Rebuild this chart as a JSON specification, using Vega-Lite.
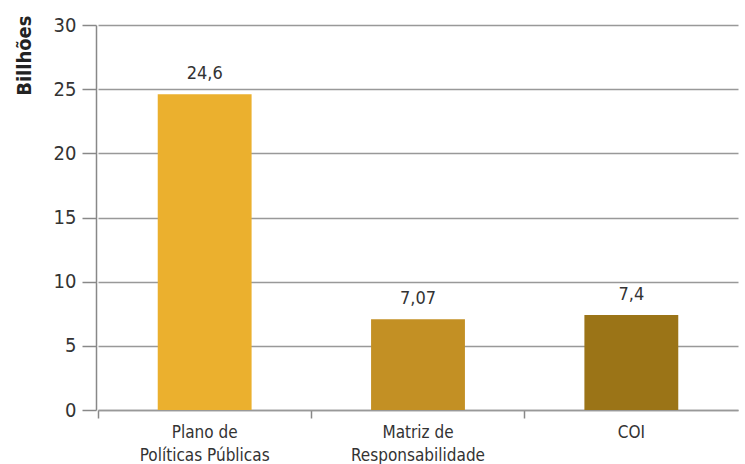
{
  "$schema": "https://vega.github.io/schema/vega-lite/v6.json",
  "autosize": {"type": "none"},
  "width": 649,
  "height": 385,
  "padding": {"left": 96, "top": 25, "right": 0, "bottom": 54},
  "background": "white",
  "config": {
    "locale": {"number": {"decimal": ",", "thousands": ".", "grouping": [3], "currency": ["R$", ""]}},
    "view": {"stroke": null},
    "font": "DejaVu Sans Condensed, Liberation Sans, sans-serif"
  },
  "data": {
    "values": [
      {"categoria": "Plano de|Políticas Públicas", "valor": 24.6},
      {"categoria": "Matriz de|Responsabilidade", "valor": 7.07},
      {"categoria": "COI", "valor": 7.4}
    ]
  },
  "encoding": {
    "x": {
      "field": "categoria",
      "type": "nominal",
      "sort": null,
      "scale": {"range": [2, 642], "paddingInner": 0.56, "paddingOuter": 0.28},
      "axis": {
        "title": null,
        "labelAngle": 0,
        "labelExpr": "split(datum.value, '|')",
        "labelFont": "DejaVu Sans Condensed, Liberation Sans, sans-serif",
        "labelFontSize": 17,
        "labelColor": "#333333",
        "labelLineHeight": 23,
        "labelPadding": 6,
        "domainColor": "#999999",
        "domainWidth": 1.5,
        "tickColor": "#888888",
        "tickWidth": 1.5,
        "tickSize": 8,
        "bandPosition": -0.636
      }
    },
    "y": {
      "field": "valor",
      "type": "quantitative",
      "scale": {"domain": [0, 30], "nice": false},
      "axis": {
        "title": "Billhões",
        "titleFont": "DejaVu Sans Condensed, Liberation Sans, sans-serif",
        "titleFontSize": 20,
        "titleFontWeight": "bold",
        "titleColor": "#222222",
        "titleAngle": -90,
        "titleAlign": "right",
        "titleBaseline": "alphabetic",
        "titleX": -66,
        "titleY": -10,
        "values": [0, 5, 10, 15, 20, 25, 30],
        "labelFont": "DejaVu Sans Condensed, Liberation Sans, sans-serif",
        "labelFontSize": 20,
        "labelColor": "#333333",
        "labelPadding": 6,
        "tickColor": "#888888",
        "tickWidth": 1.5,
        "tickSize": 14,
        "domainColor": "#888888",
        "domainWidth": 1.5,
        "grid": true,
        "gridColor": "#999999",
        "gridWidth": 1.5
      }
    }
  },
  "layer": [
    {
      "mark": {"type": "bar"},
      "encoding": {
        "color": {
          "field": "categoria",
          "type": "nominal",
          "sort": null,
          "scale": {"range": ["#EBB02E", "#C39024", "#9B7417"]},
          "legend": null
        }
      }
    },
    {
      "mark": {"type": "text", "dy": -11, "baseline": "bottom", "fontSize": 18, "font": "DejaVu Sans Condensed, Liberation Sans, sans-serif", "color": "#333333"},
      "encoding": {
        "text": {"field": "valor", "type": "quantitative", "format": ".3~g"}
      }
    }
  ]
}
